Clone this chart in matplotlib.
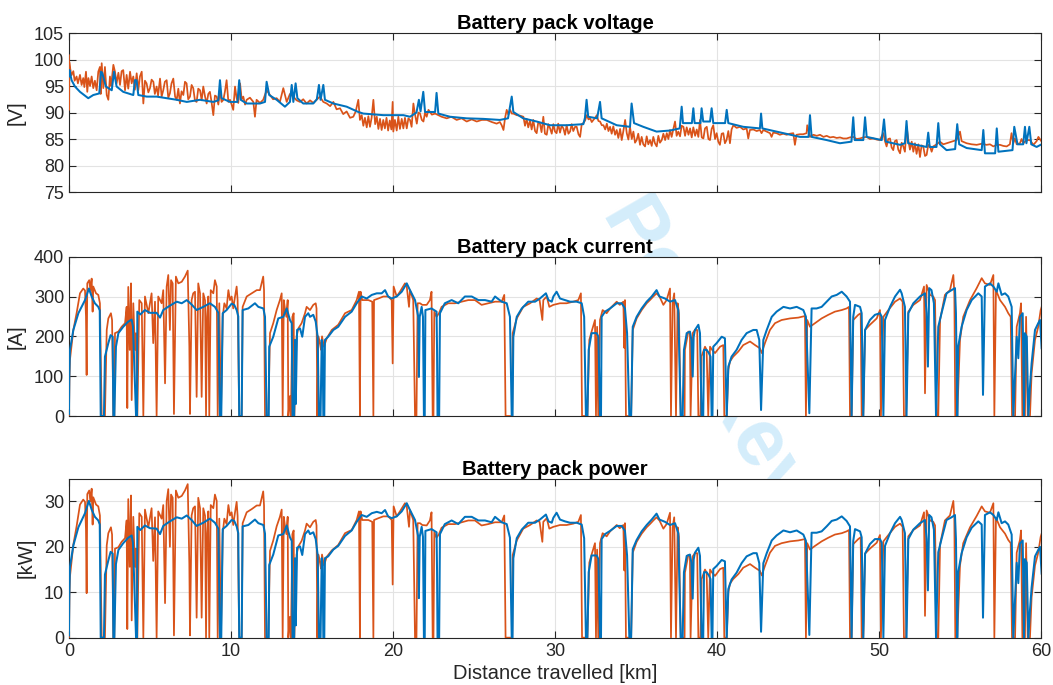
import matplotlib
matplotlib.use("Agg")
import matplotlib.pyplot as plt
from matplotlib.ticker import MultipleLocator

plt.rcParams['font.family'] = ['Liberation Sans', 'DejaVu Sans']

# ---- battery pack voltage [V] ----
volt_model_km = [0, 0.03, 0.16, 0.37, 0.68, 1.19, 1.5, 1.87, 1.98, 2.05, 2.28, 2.64, 2.78, 2.94, 3.35, 3.97,
                 4.07, 4.17, 4.28, 4.8, 5.41, 6.03, 6.65, 7.27, 8.09, 8.91, 9.22, 9.32, 9.42, 9.94, 10.4,
                 10.51, 10.6, 10.97, 11.79, 12.1, 12.2, 12.36, 12.82, 13.33, 13.64, 13.75, 13.85, 13.99,
                 14.1, 14.46, 15.08, 15.3, 15.43, 15.53, 15.7, 15.8, 16.32, 17.14, 17.86, 18.17, 19.4,
                 20.64, 21.05, 21.45, 21.6, 21.7, 21.87, 21.98, 22.6, 22.69, 22.8, 23.52, 24.55, 25.57,
                 26.6, 27.1, 27.33, 27.43, 28.04, 28.87, 29.69, 30.72, 31.75, 31.85, 31.95, 32.05, 32.6,
                 32.78, 32.88, 33.81, 34.63, 34.73, 34.88, 35.45, 36.27, 37.1, 37.7, 37.82, 37.9, 38.45,
                 38.54, 38.62, 38.98, 39.05, 39.15, 39.57, 39.67, 39.77, 40.5, 40.6, 40.7, 41.62, 42.65,
                 42.72, 42.8, 44.1, 45.12, 45.65, 45.74, 45.84, 46.77, 47.59, 48.3, 48.41, 48.5, 49.03,
                 49.14, 49.24, 50.17, 50.31, 50.43, 51.3, 51.6, 51.7, 51.8, 52.94, 53.04, 53.13, 53.55,
                 53.66, 53.76, 54.17, 54.7, 54.83, 54.95, 55.41, 56.34, 56.44, 56.54, 57.17, 57.27, 57.37,
                 58.24, 58.35, 58.55, 58.9, 59.01, 59.1, 59.28, 59.4, 59.73, 60.04]
volt_model_V = [96.8, 98.0, 96.1, 94.9, 93.9, 92.7, 93.3, 93.6, 97.7, 97.5, 94.9, 94.2, 97.7, 94.9, 93.9, 93.3,
                96.1, 96.1, 93.3, 93.0, 93.0, 92.7, 92.4, 92.0, 92.4, 92.0, 92.3, 96.1, 92.7, 92.0, 92.0,
                96.1, 92.4, 91.7, 91.7, 92.0, 95.8, 93.3, 92.4, 91.1, 92.0, 95.2, 92.0, 95.5,
                92.7, 91.7, 91.7, 92.5, 95.2, 92.4, 95.2, 92.4, 91.7, 91.1, 90.1, 89.8, 89.5,
                89.5, 89.2, 90.0, 92.4, 90.2, 93.9, 90.1, 90.1, 93.7, 89.8, 89.2, 88.9, 88.8,
                88.6, 88.9, 93.0, 90.1, 88.9, 88.3, 87.6, 87.6, 87.8, 89.0, 92.4, 89.2, 88.9,
                92.0, 88.9, 87.6, 87.3, 91.7, 88.0, 87.3, 86.4, 86.6, 87.0, 91.1, 88.0, 88.0,
                90.8, 88.0, 88.0, 90.8, 88.3, 88.3, 90.8, 88.0, 88.0, 90.5, 88.0, 87.3, 87.0,
                89.8, 87.0, 86.1, 85.4, 85.4, 89.5, 85.4, 84.8, 84.2, 84.5, 89.1, 84.8, 84.8,
                89.1, 85.4, 84.8, 88.7, 84.5, 83.9, 84.2, 88.4, 84.2, 83.5, 86.2, 83.5, 83.5,
                88.0, 84.0, 82.9, 83.1, 87.8, 84.0, 83.3, 82.9, 86.7, 82.3, 82.3, 87.0, 82.6,
                82.9, 87.3, 84.0, 84.0, 87.3, 84.2, 87.3, 84.0, 83.5, 84.0]

volt_meas_km = [0, 0.01, 0.02, 0.06, 0.15, 0.27, 0.35, 0.47, 0.55, 0.68,
                0.78, 0.88, 0.95, 1.05, 1.13, 1.2, 1.3, 1.4, 1.5, 1.6,
                1.71, 1.81, 1.91, 1.96, 2.02, 2.12, 2.22, 2.33, 2.43, 2.53,
                2.6, 2.74, 2.84, 2.94, 3.05, 3.15, 3.25, 3.35, 3.46, 3.56,
                3.66, 3.77, 3.87, 3.97, 4.07, 4.18, 4.28, 4.38, 4.49, 4.59,
                4.69, 4.79, 4.9, 5.0, 5.1, 5.21, 5.3, 5.41, 5.5, 5.62,
                5.72, 5.82, 5.92, 6.03, 6.13, 6.23, 6.33, 6.44, 6.55, 6.65,
                6.75, 6.85, 6.95, 7.06, 7.16, 7.26, 7.36, 7.47, 7.57, 7.67,
                7.78, 7.88, 7.98, 8.09, 8.19, 8.29, 8.4, 8.5, 8.6, 8.7,
                8.8, 8.91, 9.01, 9.12, 9.22, 9.32, 9.42, 9.53, 9.63, 9.73,
                9.84, 9.94, 10.04, 10.14, 10.25, 10.35, 10.45, 10.56, 10.66, 10.76,
                10.87, 10.97, 11.17, 11.38, 11.48, 11.58, 11.79, 11.99, 12.2, 12.41,
                12.6, 12.82, 13.02, 13.23, 13.44, 13.64, 13.85, 14.05, 14.26, 14.46,
                14.67, 14.88, 15.08, 15.29, 15.49, 15.7, 15.91, 16.12, 16.32, 16.52,
                16.73, 16.93, 17.14, 17.35, 17.55, 17.7, 17.86, 17.96, 18.07, 18.17,
                18.27, 18.38, 18.48, 18.58, 18.68, 18.79, 18.9, 19.0, 19.1, 19.2,
                19.3, 19.4, 19.5, 19.6, 19.7, 19.8, 19.9, 19.98, 20.02, 20.12,
                20.23, 20.33, 20.43, 20.54, 20.64, 20.74, 20.85, 20.95, 21.05, 21.15,
                21.26, 21.35, 21.47, 21.57, 21.67, 21.78, 21.88, 21.98, 22.08, 22.19,
                22.4, 22.6, 22.8, 23.0, 23.32, 23.6, 23.93, 24.24, 24.55, 24.86,
                25.17, 25.48, 25.79, 26.1, 26.4, 26.6, 26.71, 26.82, 26.92, 27.02,
                27.12, 27.23, 27.33, 27.43, 27.64, 27.85, 28.05, 28.15, 28.25, 28.35,
                28.46, 28.56, 28.66, 28.77, 28.87, 28.97, 29.07, 29.17, 29.28, 29.38,
                29.49, 29.59, 29.7, 29.8, 29.9, 30.0, 30.1, 30.2, 30.31, 30.41,
                30.52, 30.62, 30.72, 30.83, 30.93, 31.03, 31.13, 31.24, 31.34, 31.45,
                31.55, 31.65, 31.75, 31.86, 31.96, 32.07, 32.17, 32.27, 32.37, 32.48,
                32.58, 32.68, 32.78, 32.89, 32.99, 33.1, 33.2, 33.3, 33.4, 33.5,
                33.6, 33.71, 33.81, 33.91, 34.02, 34.12, 34.22, 34.33, 34.43, 34.53,
                34.63, 34.74, 34.84, 34.94, 35.04, 35.14, 35.25, 35.35, 35.45, 35.56,
                35.66, 35.76, 35.87, 35.97, 36.07, 36.17, 36.28, 36.38, 36.48, 36.59,
                36.69, 36.8, 36.9, 37.0, 37.1, 37.2, 37.31, 37.41, 37.51, 37.61,
                37.72, 37.82, 37.93, 38.03, 38.13, 38.24, 38.34, 38.44, 38.54, 38.65,
                38.75, 38.85, 38.95, 39.06, 39.16, 39.26, 39.37, 39.47, 39.57, 39.67,
                39.77, 39.88, 39.98, 40.08, 40.18, 40.29, 40.39, 40.49, 40.59, 40.7,
                40.8, 40.9, 41.01, 41.21, 41.42, 41.62, 41.83, 41.93, 42.03, 42.24,
                42.45, 42.65, 42.75, 42.86, 43.06, 43.27, 43.37, 43.47, 43.68, 43.88,
                44.09, 44.3, 44.5, 44.71, 44.81, 44.91, 45.12, 45.32, 45.53, 45.57,
                45.74, 45.95, 46.16, 46.36, 46.57, 46.77, 46.98, 47.18, 47.39, 47.59,
                47.8, 48.0, 48.2, 48.41, 48.62, 48.82, 49.03, 49.24, 49.44, 49.65,
                49.85, 50.06, 50.16, 50.27, 50.37, 50.47, 50.57, 50.68, 50.78, 50.88,
                50.98, 51.09, 51.19, 51.3, 51.4, 51.5, 51.6, 51.71, 51.81, 51.91,
                52.02, 52.12, 52.22, 52.32, 52.43, 52.53, 52.63, 52.73, 52.84, 52.94,
                53.04, 53.15, 53.25, 53.35, 53.56, 53.76, 53.97, 54.18, 54.38, 54.59,
                54.79, 55.0, 55.1, 55.41, 55.72, 56.03, 56.33, 56.64, 56.85, 57.06,
                57.26, 57.47, 57.67, 57.88, 58.08, 58.18, 58.29, 58.39, 58.5, 58.7,
                58.8, 58.91, 59.11, 59.32, 59.53, 59.73, 59.84, 60.04]
volt_meas_V = [100.8, 90.5, 99.5, 98.6, 97.0, 97.8, 96.0, 96.8, 95.5, 97.1,
               95.2, 96.5, 94.8, 97.7, 93.9, 96.5, 95.0, 96.8, 94.6, 96.0,
               94.2, 97.7, 98.6, 93.5, 99.3, 94.6, 98.6, 93.3, 92.4, 96.8,
               95.0, 99.0, 97.7, 95.5, 97.5, 95.2, 97.8, 98.0, 94.2, 97.1,
               94.5, 97.7, 95.5, 96.8, 94.3, 97.4, 94.2, 96.8, 97.7, 91.7,
               96.0, 95.5, 93.8, 94.6, 96.2, 95.8, 93.5, 94.9, 93.2, 96.4,
               93.0, 94.2, 95.8, 96.1, 92.8, 93.6, 95.5, 96.4, 93.0, 92.4,
               94.5, 91.7, 94.0, 93.3, 95.8, 95.5, 92.5, 93.0, 95.2, 94.6,
               92.2, 92.0, 94.5, 94.2, 92.3, 94.9, 93.0, 91.7, 93.5, 93.9,
               92.0, 89.5, 93.2, 93.0, 91.5, 94.2, 92.0, 92.4, 94.0, 96.1,
               92.0, 92.4, 91.5, 90.5, 94.9, 92.7, 91.8, 95.5, 92.5, 93.0,
               91.5, 92.4, 92.8, 92.0, 89.2, 92.4, 91.8, 92.4, 94.2, 93.3,
               92.5, 92.7, 92.0, 94.6, 92.0, 93.5, 93.0, 92.3, 92.0, 92.5,
               91.7, 92.3, 91.8, 92.4, 93.0, 92.0, 91.7, 91.2, 92.0, 90.6,
               90.8, 89.7, 90.2, 89.0, 89.2, 90.2, 92.4, 88.6, 89.5, 87.5,
               89.0, 87.2, 89.3, 87.3, 89.0, 92.4, 87.8, 89.2, 86.9, 88.8,
               86.7, 88.6, 87.0, 89.0, 86.6, 88.5, 86.8, 92.0, 86.4, 88.6,
               86.6, 89.2, 86.9, 88.8, 87.0, 89.0, 87.0, 88.9, 88.6, 87.3,
               91.7, 89.8, 87.9, 90.0, 89.8, 88.6, 88.3, 90.0, 89.2, 90.5,
               89.6, 89.8, 89.5, 89.2, 88.9, 89.2, 88.6, 88.9, 88.3, 88.7,
               88.3, 88.6, 88.6, 88.2, 87.9, 88.2, 87.6, 86.7, 89.0, 90.5,
               89.6, 90.5, 89.8, 89.8, 89.5, 89.4, 89.2, 87.5, 88.8, 87.2,
               88.5, 86.8, 88.6, 86.5, 86.1, 88.2, 87.9, 86.3, 89.2, 86.0,
               85.8, 87.8, 87.0, 86.0, 87.8, 86.4, 86.1, 87.9, 86.2, 87.5,
               87.0, 85.8, 87.6, 86.0, 86.4, 87.8, 86.5, 87.3, 87.3, 85.9,
               85.4, 87.8, 88.0, 88.5, 89.5, 88.7, 88.9, 88.2, 88.6, 89.0,
               89.5, 88.4, 88.3, 87.6, 87.6, 86.8, 87.9, 86.5, 87.3, 86.0,
               87.4, 85.8, 86.7, 85.2, 86.9, 84.8, 86.5, 88.6, 86.1, 84.9,
               87.3, 85.0, 86.4, 84.3, 84.8, 86.0, 83.9, 85.4, 84.0, 83.6,
               85.5, 84.0, 84.8, 83.7, 85.4, 84.2, 83.6, 85.6, 84.3, 84.8,
               86.0, 84.8, 86.1, 85.0, 86.7, 85.4, 86.9, 88.3, 85.6, 86.4,
               85.5, 87.5, 87.3, 85.6, 87.2, 85.8, 87.0, 85.3, 87.2, 85.6,
               86.8, 85.4, 88.6, 85.3, 85.1, 87.0, 87.3, 85.0, 84.8, 86.9,
               87.6, 85.0, 86.1, 84.5, 83.9, 86.0, 86.1, 84.2, 84.8, 86.5,
               84.2, 86.8, 87.6, 87.1, 87.3, 86.8, 87.0, 85.1, 86.7, 86.8,
               86.5, 86.7, 86.1, 86.7, 86.4, 86.1, 85.4, 86.2, 86.1, 85.8,
               86.0, 85.8, 86.0, 86.1, 83.9, 85.8, 85.9, 85.9, 86.1, 87.6,
               85.4, 85.8, 85.6, 85.8, 85.4, 85.6, 85.3, 85.4, 85.2, 85.3,
               85.1, 85.1, 85.3, 85.4, 85.0, 85.1, 85.3, 85.4, 85.0, 85.1,
               84.9, 84.8, 85.5, 86.1, 84.6, 83.6, 85.0, 85.1, 83.4, 82.9,
               84.6, 84.8, 83.0, 82.3, 84.3, 83.6, 82.6, 87.3, 84.8, 83.0,
               84.5, 82.6, 84.2, 82.2, 84.0, 81.6, 83.8, 83.6, 81.8, 82.0,
               83.9, 83.6, 82.6, 83.6, 84.0, 84.5, 84.0, 84.2, 84.4, 84.6,
               84.8, 86.4, 84.6, 84.2, 84.0, 83.9, 84.1, 83.9, 84.0, 83.6,
               83.9, 83.9, 83.7, 83.6, 84.0, 86.1, 84.2, 85.1, 84.0, 84.2,
               85.0, 84.2, 84.8, 84.8, 83.9, 84.6, 85.4, 84.5]

# ---- battery pack current [A] and power [kW], simulated model (blue) ----
model_km = [0.0, 0.02, 0.06, 0.27, 0.58, 0.78, 0.99, 1.23, 1.4, 1.6, 1.81, 1.9, 1.96, 2.16, 2.22, 2.43, 2.57,
            2.7, 2.74, 2.8, 2.9, 3.05, 3.35, 3.66, 3.87, 3.95, 4.14, 4.2, 4.22, 4.4, 4.69, 5.0, 5.41, 5.62,
            5.82, 6.23, 6.65, 6.96, 7.27, 7.57, 7.88, 8.29, 8.7, 9.01, 9.22, 9.32, 9.4, 9.49, 9.73, 10.04,
            10.2, 10.35, 10.45, 10.51, 10.66, 10.72, 11.07, 11.48, 11.69, 12.0, 12.1, 12.2, 12.33, 12.36,
            12.61, 12.92, 13.23, 13.44, 13.64, 13.75, 13.8, 13.9, 13.95, 14.0, 14.08, 14.26, 14.4, 14.57,
            14.77, 14.88, 15.08, 15.23, 15.35, 15.43, 15.53, 15.6, 15.66, 15.7, 15.76, 15.8, 16.0, 16.32,
            16.62, 17.04, 17.45, 17.76, 18.07, 18.38, 18.69, 19.0, 19.3, 19.51, 19.7, 19.92, 20.23, 20.54,
            20.85, 21.05, 21.36, 21.56, 21.6, 21.65, 21.77, 21.85, 21.91, 21.96, 22.0, 22.38, 22.69, 22.72,
            22.75, 22.85, 22.9, 23.2, 23.62, 24.03, 24.44, 24.86, 25.27, 25.68, 26.09, 26.3, 26.71, 27.02,
            27.22, 27.33, 27.38, 27.43, 27.64, 27.95, 28.35, 28.77, 29.07, 29.44, 29.6, 29.8, 29.9, 30.1,
            30.31, 30.62, 30.93, 31.34, 31.65, 31.8, 31.91, 32.0, 32.08, 32.26, 32.57, 32.68, 32.78, 32.84,
            32.88, 33.09, 33.4, 33.81, 34.12, 34.32, 34.45, 34.59, 34.7, 34.8, 35.04, 35.35, 35.66, 35.97,
            36.27, 36.45, 36.79, 37.1, 37.41, 37.61, 37.76, 37.88, 37.96, 38.13, 38.33, 38.42, 38.5, 38.56,
            38.64, 38.85, 38.95, 39.05, 39.15, 39.2, 39.36, 39.5, 39.6, 39.67, 39.72, 39.77, 39.98, 40.29,
            40.49, 40.6, 40.7, 40.9, 41.21, 41.52, 41.83, 42.24, 42.45, 42.61, 42.72, 42.86, 43.07, 43.38,
            43.68, 44.1, 44.51, 44.92, 45.33, 45.49, 45.7, 45.84, 46.15, 46.46, 46.77, 47.08, 47.39, 47.7,
            48.0, 48.21, 48.31, 48.41, 48.52, 48.83, 48.93, 49.03, 49.14, 49.44, 49.75, 50.06, 50.17, 50.27,
            50.37, 50.68, 50.99, 51.3, 51.4, 51.6, 51.7, 51.81, 52.12, 52.53, 52.84, 52.94, 53.02, 53.1,
            53.24, 53.39, 53.52, 53.66, 53.86, 54.17, 54.48, 54.69, 54.75, 54.83, 54.89, 55.1, 55.41, 55.72,
            56.13, 56.34, 56.42, 56.54, 56.85, 57.06, 57.27, 57.37, 57.57, 57.78, 57.98, 58.19, 58.29, 58.5,
            58.6, 58.7, 58.87, 58.95, 59.01, 59.12, 59.22, 59.32, 59.42, 59.63, 59.83, 59.94, 60.04]
model_A = [5, 95, 166, 216, 258, 274, 291, 320, 300, 283, 274, 265, 0, 0, 149, 183, 203,
           199, 0, 0, 174, 208, 224, 237, 242, 225, 0, 0, 262, 255, 266, 259, 259, 247,
           266, 277, 287, 283, 291, 280, 266, 274, 283, 274, 259, 0, 0, 258, 266, 282,
           279, 266, 250, 0, 0, 266, 270, 283, 274, 270, 249, 0, 0, 174,
           199, 245, 249, 270, 241, 233, 0, 0, 191, 30, 216, 220, 199, 249,
           258, 249, 254, 237, 199, 0, 0, 191, 174, 0, 0, 191, 199, 216,
           224, 249, 262, 283, 300, 295, 304, 308, 308, 316, 300, 295, 300, 312,
           333, 316, 291, 249, 98, 249, 274, 249, 0, 0, 266, 270, 262, 166,
           0, 0, 258, 283, 291, 283, 300, 300, 291, 291, 287, 300, 287, 283,
           249, 0, 0, 199, 249, 270, 287, 287, 295, 308, 291, 287, 300, 312,
           295, 291, 287, 287, 283, 249, 0, 0, 166, 208, 208, 199, 0, 0,
           249, 262, 270, 283, 283, 270, 208, 0, 0, 224, 249, 270, 287, 300,
           316, 300, 295, 287, 291, 266, 0, 0, 166, 208, 212, 191, 99, 199,
           216, 229, 208, 0, 0, 166, 166, 158, 149, 0, 0, 174, 183, 199,
           195, 0, 124, 149, 166, 191, 208, 216, 216, 191, 15, 191, 216, 249,
           262, 274, 270, 274, 266, 249, 7, 270, 270, 274, 287, 300, 304, 312,
           300, 287, 0, 249, 279, 274, 258, 0, 216, 241, 254, 258, 249, 0,
           241, 274, 300, 317, 308, 274, 0, 258, 283, 300, 308, 258, 124, 321,
           316, 283, 0, 224, 258, 308, 316, 321, 258, 0, 174, 224, 266, 291,
           308, 300, 53, 325, 333, 325, 312, 333, 304, 308, 300, 274, 0, 199,
           145, 249, 258, 0, 208, 199, 0, 74, 132, 216, 233, 241, 170]
model_kW = [0.5, 8.9, 15.6, 20.3, 24.3, 25.8, 27.4, 30.1, 28.2, 26.6, 25.8, 24.9, 0, 0, 13.9, 17.0, 18.9,
            18.5, 0, 0, 16.2, 19.3, 20.8, 22.0, 22.5, 20.9, 0, 0, 24.4, 23.7, 24.7, 24.1, 24.0, 22.8,
            24.6, 25.6, 26.5, 26.2, 26.9, 25.9, 24.6, 25.3, 26.2, 25.3, 24.0, 0, 0, 23.9, 24.6, 25.9,
            25.7, 24.5, 23.0, 0, 0, 24.5, 24.8, 26.0, 25.2, 24.8, 22.9, 0, 0, 16.0,
            18.3, 22.5, 22.8, 24.7, 22.1, 21.3, 0, 0, 17.5, 2.7, 19.8, 20.1, 18.2, 22.8,
            23.6, 22.8, 23.2, 21.7, 18.2, 0, 0, 17.5, 15.9, 0, 0, 17.5, 17.9, 19.4,
            20.2, 22.4, 23.6, 25.5, 27.0, 26.6, 27.4, 27.7, 27.4, 28.1, 26.7, 26.3, 26.7, 27.8,
            29.6, 28.1, 25.9, 22.2, 8.7, 22.2, 24.4, 22.2, 0, 0, 23.5, 23.9, 23.2, 14.7,
            0, 0, 22.8, 25.0, 25.8, 25.0, 26.6, 26.6, 25.8, 25.8, 25.4, 26.6, 25.4, 25.0,
            22.0, 0, 0, 17.5, 21.9, 23.8, 25.3, 25.3, 26.0, 27.1, 25.6, 25.3, 26.4, 27.5,
            26.0, 25.6, 25.3, 25.3, 24.9, 21.9, 0, 0, 14.4, 18.1, 18.1, 17.3, 0, 0,
            21.7, 22.8, 23.5, 24.6, 24.6, 23.5, 18.1, 0, 0, 19.5, 21.5, 23.4, 24.8, 26.0,
            27.3, 26.0, 25.5, 24.8, 25.2, 23.0, 0, 0, 14.4, 18.0, 18.3, 16.5, 8.6, 17.2,
            18.7, 19.8, 18.0, 0, 0, 14.4, 14.4, 13.7, 12.9, 0, 0, 15.1, 15.8, 17.1,
            16.8, 0, 10.7, 12.8, 14.3, 16.4, 17.9, 18.6, 18.6, 16.4, 1.3, 16.4, 18.6, 21.4,
            22.5, 23.6, 23.2, 23.6, 22.7, 21.3, 0.6, 23.1, 23.1, 23.4, 24.5, 25.7, 26.0, 26.7,
            25.7, 24.5, 0, 21.3, 23.9, 23.4, 22.1, 0, 18.5, 20.6, 21.7, 21.7, 20.9, 0,
            20.2, 23.0, 25.2, 26.6, 25.9, 23.0, 0, 21.7, 23.8, 25.2, 25.9, 21.7, 10.4, 27.0,
            26.5, 23.8, 0, 18.8, 21.7, 25.9, 26.5, 27.0, 21.7, 0, 14.4, 18.6, 22.1, 24.2,
            25.6, 24.9, 4.4, 27.0, 27.6, 27.0, 25.9, 27.6, 25.2, 25.6, 24.9, 22.7, 0, 16.5,
            12.0, 20.7, 21.4, 0, 17.3, 16.5, 0, 6.1, 11.0, 17.9, 19.3, 20.0, 14.1]

# ---- battery pack current [A] and power [kW], measured (orange) ----
meas_km = [0.0, 0.03, 0.06, 0.27, 0.47, 0.68, 0.88, 0.99, 1.05, 1.09, 1.13, 1.25, 1.32, 1.4, 1.46, 1.5,
           1.67, 1.81, 1.91, 2.02, 2.22, 2.33, 2.43, 2.59, 2.66, 2.74, 2.8, 2.84, 3.05, 3.25, 3.46, 3.56,
           3.6, 3.66, 3.75, 3.83, 3.87, 3.97, 4.07, 4.14, 4.22, 4.34, 4.49, 4.59, 4.69, 4.9, 5.1, 5.2,
           5.31, 5.41, 5.51, 5.72, 5.82, 5.93, 6.03, 6.13, 6.23, 6.3, 6.4, 6.48, 6.6, 6.75, 6.96, 7.16,
           7.33, 7.43, 7.47, 7.57, 7.67, 7.78, 7.88, 7.98, 8.09, 8.19, 8.29, 8.4, 8.46, 8.52, 8.6, 8.66,
           8.75, 8.91, 9.01, 9.12, 9.18, 9.28, 9.38, 9.49, 9.59, 9.73, 9.84, 9.94, 10.04, 10.14, 10.25,
           10.35, 10.41, 10.51, 10.66, 10.72, 10.97, 11.28, 11.59, 11.79, 11.99, 12.04, 12.1, 12.3, 12.41,
           12.61, 12.82, 13.02, 13.13, 13.19, 13.26, 13.33, 13.42, 13.5, 13.54, 13.64, 13.7, 13.79, 13.87,
           13.91, 14.05, 14.16, 14.36, 14.57, 14.67, 14.88, 15.08, 15.23, 15.28, 15.33, 15.39, 15.49,
           15.56, 15.62, 15.74, 15.91, 16.22, 16.62, 17.04, 17.45, 17.76, 17.9, 17.96, 18.0, 18.1, 18.48,
           18.72, 18.79, 18.83, 19.1, 19.4, 19.71, 19.92, 19.98, 20.04, 20.23, 20.43, 20.74, 20.85, 20.99,
           21.05, 21.25, 21.36, 21.45, 21.52, 21.67, 21.81, 22.08, 22.28, 22.38, 22.45, 22.5, 22.55, 22.69,
           22.84, 23.0, 23.41, 23.83, 24.24, 24.65, 25.06, 25.47, 25.88, 26.3, 26.71, 26.87, 26.95, 27.36,
           27.39, 27.64, 28.04, 28.46, 28.87, 29.05, 29.22, 29.28, 29.49, 29.65, 29.9, 30.31, 30.72, 31.13,
           31.44, 31.6, 31.67, 32.0, 32.12, 32.26, 32.47, 32.53, 32.6, 32.67, 32.78, 32.94, 33.19, 33.4,
           33.81, 34.0, 34.22, 34.28, 34.32, 34.38, 34.7, 34.8, 35.04, 35.35, 35.66, 35.86, 36.07, 36.27,
           36.45, 36.69, 36.89, 37.1, 37.16, 37.26, 37.36, 37.47, 37.57, 37.65, 37.76, 38.0, 38.02, 38.23,
           38.33, 38.37, 38.5, 38.64, 38.78, 38.85, 38.98, 39.05, 39.26, 39.36, 39.46, 39.57, 39.7, 39.88,
           40.19, 40.39, 40.45, 40.6, 40.7, 40.8, 41.0, 41.32, 41.62, 42.04, 42.35, 42.65, 42.76, 42.96,
           43.27, 43.58, 43.99, 44.51, 45.02, 45.43, 45.49, 45.57, 45.74, 46.05, 46.46, 46.87, 47.28, 47.7,
           48.0, 48.15, 48.21, 48.31, 48.41, 48.72, 48.87, 48.93, 49.03, 49.14, 49.44, 49.86, 50.06, 50.12,
           50.27, 50.58, 50.99, 51.3, 51.46, 51.54, 51.67, 51.81, 52.12, 52.53, 52.78, 52.84, 52.94, 53.15,
           53.35, 53.46, 53.56, 53.66, 53.77, 54.07, 54.38, 54.59, 54.65, 54.71, 54.83, 55.0, 55.2, 55.62,
           56.03, 56.34, 56.54, 56.85, 57.06, 57.12, 57.22, 57.47, 57.78, 57.98, 58.13, 58.21, 58.4, 58.5,
           58.7, 58.77, 58.85, 58.95, 59.01, 59.08, 59.18, 59.32, 59.42, 59.63, 59.83, 59.98, 60.04]
meas_A = [0, 100, 141, 216, 258, 308, 320, 315, 250, 103, 333, 341, 316, 345, 262, 325,
          308, 304, 283, 0, 0, 216, 245, 258, 241, 0, 0, 208, 212, 224, 233, 274,
          20, 324, 166, 333, 40, 283, 166, 208, 0, 291, 283, 0, 300, 258, 308, 183,
          287, 0, 300, 283, 316, 82, 325, 354, 216, 341, 333, 5, 350, 333, 337, 350,
          365, 175, 5, 291, 308, 312, 48, 333, 308, 48, 308, 290, 0, 249, 300, 0,
          316, 308, 341, 325, 0, 283, 0, 249, 283, 270, 316, 291, 300, 270, 300,
          325, 291, 0, 0, 274, 300, 308, 316, 316, 350, 316, 0, 0, 208,
          233, 266, 291, 308, 0, 291, 270, 249, 291, 0, 50, 0, 249, 258,
          0, 200, 220, 233, 258, 274, 266, 279, 283, 270, 0, 200, 183,
          166, 200, 174, 195, 216, 229, 258, 266, 291, 312, 0, 312, 291, 291,
          287, 0, 291, 295, 300, 300, 291, 132, 325, 300, 312, 333, 325, 274,
          316, 291, 0, 0, 283, 283, 279, 279, 291, 312, 0, 0, 262, 249,
          258, 274, 283, 283, 287, 291, 291, 279, 283, 287, 287, 304, 0, 0,
          208, 245, 274, 283, 295, 291, 241, 291, 300, 274, 279, 283, 283, 287,
          291, 308, 0, 0, 191, 212, 241, 0, 224, 0, 241, 266, 258, 270,
          287, 279, 287, 171, 291, 0, 0, 216, 245, 266, 283, 291, 300, 308,
          300, 279, 291, 320, 0, 283, 308, 0, 283, 258, 0, 0, 166, 212,
          208, 0, 208, 216, 216, 0, 0, 150, 174, 166, 0, 174, 166, 158,
          174, 178, 0, 0, 116, 137, 149, 162, 178, 187, 178, 170, 158, 183,
          216, 233, 241, 245, 247, 251, 0, 241, 224, 233, 245, 254, 262, 266,
          270, 274, 0, 0, 241, 254, 258, 0, 0, 216, 229, 245, 266, 0,
          249, 266, 287, 295, 287, 0, 0, 262, 279, 291, 325, 57, 329, 304,
          300, 291, 0, 0, 241, 304, 316, 354, 308, 0, 0, 191, 249, 291,
          321, 346, 333, 329, 354, 0, 316, 291, 274, 258, 249, 0, 0, 224,
          258, 283, 0, 199, 0, 249, 0, 0, 107, 191, 224, 266, 274]
meas_kW = [0, 9.5, 13.4, 20.5, 24.5, 29.3, 30.4, 29.9, 23.8, 9.8, 31.6, 32.4, 30.0, 32.8, 24.9, 30.9,
           29.3, 28.9, 26.9, 0, 0, 20.3, 23.0, 24.3, 22.7, 0, 0, 19.6, 19.9, 21.1, 21.9, 25.8,
           1.9, 30.5, 15.6, 31.3, 3.8, 26.6, 15.6, 19.6, 0, 27.4, 26.6, 0, 28.2, 24.3, 28.5, 16.9,
           26.5, 0, 27.8, 26.2, 29.2, 7.6, 30.1, 32.7, 20.0, 31.5, 30.8, 0.5, 32.4, 30.8, 31.2, 32.4,
           33.8, 16.2, 0.5, 26.9, 28.5, 28.9, 4.4, 30.8, 28.5, 4.4, 28.5, 26.8, 0, 23.0, 27.8, 0,
           29.2, 28.5, 31.5, 30.1, 0, 26.2, 0, 23.0, 26.2, 25.0, 29.2, 26.9, 27.6, 24.8, 27.6,
           29.9, 26.8, 0, 0, 25.2, 27.6, 28.3, 29.1, 29.1, 32.2, 29.1, 0, 0, 19.1,
           21.4, 24.5, 26.6, 28.2, 0, 26.6, 24.7, 22.8, 26.6, 0, 4.6, 0, 22.8, 23.6,
           0, 18.3, 20.1, 21.3, 23.6, 25.1, 24.3, 25.5, 25.9, 24.7, 0, 18.3, 16.7,
           15.2, 18.3, 15.9, 17.8, 19.2, 20.4, 23.0, 23.7, 25.9, 27.8, 0, 27.8, 25.9, 25.9,
           25.5, 0, 25.9, 26.3, 26.7, 26.7, 25.9, 11.7, 28.9, 26.7, 27.8, 29.6, 28.9, 24.4,
           28.1, 25.9, 0, 0, 25.2, 25.2, 24.8, 24.7, 25.8, 27.6, 0, 0, 23.2, 22.0,
           22.8, 24.2, 25.0, 25.0, 25.4, 25.8, 25.8, 24.7, 25.0, 25.4, 25.4, 26.9, 0, 0,
           18.2, 21.4, 24.0, 24.8, 25.8, 25.5, 21.1, 25.5, 26.3, 24.0, 24.4, 24.8, 24.8, 25.1,
           25.5, 27.0, 0, 0, 16.5, 18.3, 20.8, 0, 19.4, 0, 20.8, 23.0, 22.3, 23.4,
           24.8, 24.1, 24.8, 14.8, 25.2, 0, 0, 18.7, 21.1, 22.9, 24.3, 25.0, 25.8, 26.5,
           25.8, 24.0, 25.0, 27.5, 0, 24.3, 26.5, 0, 24.3, 22.2, 0, 0, 14.3, 18.2,
           17.9, 0, 17.9, 18.6, 18.6, 0, 0, 12.9, 15.0, 14.3, 0, 15.0, 14.3, 13.6,
           15.1, 15.4, 0, 0, 10.0, 11.9, 12.9, 14.0, 15.4, 16.2, 15.4, 14.7, 13.7, 15.8,
           18.7, 20.2, 20.8, 21.2, 21.4, 21.7, 0, 20.8, 19.4, 20.2, 21.2, 22.0, 22.7, 23.0,
           23.4, 23.7, 0, 0, 20.6, 21.7, 22.1, 0, 0, 18.5, 19.6, 20.9, 22.6, 0,
           21.2, 22.6, 24.4, 25.1, 24.4, 0, 0, 22.3, 23.7, 24.7, 27.6, 4.8, 28.0, 25.8,
           25.5, 24.7, 0, 0, 20.5, 25.8, 26.9, 30.1, 26.2, 0, 0, 15.9, 20.8, 24.3,
           26.8, 28.9, 27.8, 27.5, 29.6, 0, 26.4, 24.3, 22.9, 21.5, 20.8, 0, 0, 18.7,
           21.5, 23.6, 0, 16.6, 0, 20.8, 0, 0, 8.9, 15.9, 18.7, 22.2, 22.9]

BLUE = '#0072BD'
ORANGE = '#D95319'
TEXT = '#262626'

fig = plt.figure(figsize=(10.53, 6.85), dpi=100)
rects = [[0.0655, 0.7197, 0.9231, 0.2321],
         [0.0655, 0.3927, 0.9231, 0.2326],
         [0.0655, 0.0691, 0.9231, 0.2321]]
axes = [fig.add_axes(r) for r in rects]

panels = [
    ('Battery pack voltage', '[V]', (volt_model_km, volt_model_V), (volt_meas_km, volt_meas_V), (75, 105), 5),
    ('Battery pack current', '[A]', (model_km, model_A), (meas_km, meas_A), (0, 400), 100),
    ('Battery pack power', '[kW]', (model_km, model_kW), (meas_km, meas_kW), (0, 35), 10),
]

for ax, (title, ylab, model, meas, ylim, ystep) in zip(axes, panels):
    ax.plot(meas[0], meas[1], color=ORANGE, lw=1.25, zorder=3)
    ax.plot(model[0], model[1], color=BLUE, lw=1.45, zorder=4)
    ax.set_xlim(0, 60)
    ax.set_ylim(*ylim)
    ax.xaxis.set_major_locator(MultipleLocator(10))
    ax.yaxis.set_major_locator(MultipleLocator(ystep))
    ax.grid(True, color='#e3e3e3', lw=0.8, zorder=0)
    ax.set_axisbelow(True)
    ax.tick_params(direction='in', top=True, right=True, length=5, width=0.8,
                   colors=TEXT, labelsize=13)
    for s in ax.spines.values():
        s.set_color(TEXT)
        s.set_linewidth(0.8)
    ax.set_title(title, fontsize=14.5, fontweight='bold', pad=3, color='black')
    ax.set_ylabel(ylab, fontsize=14.5, color=TEXT, labelpad=6)

axes[0].tick_params(labelbottom=False)
axes[1].tick_params(labelbottom=False)
axes[2].set_xlabel('Distance travelled [km]', fontsize=14.5, color=TEXT, labelpad=3)

# reviewer watermark, sitting behind the white axes so it only shows in the gaps
fig.text(0.665, 0.50, 'For Peer Review', fontsize=58, fontweight='bold', color='#d4edfb',
         rotation=-60, ha='center', va='center', zorder=-1)

fig.savefig('out.png', dpi=100)
